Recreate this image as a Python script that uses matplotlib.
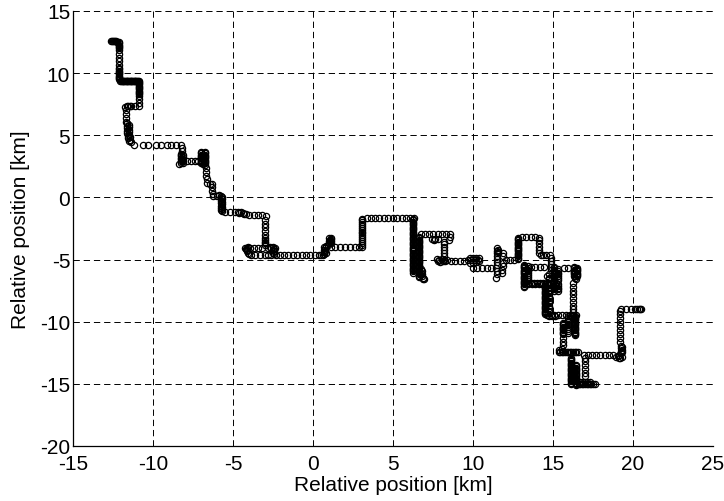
import matplotlib
matplotlib.use("Agg")
import matplotlib.pyplot as plt

# track positions [km], grouped by stretch of the track
track_nw = [
    (-12.65, 12.6), (-12.58, 12.6), (-12.5, 12.6), (-12.43, 12.6), (-12.36, 12.58),
    (-12.29, 12.55), (-12.22, 12.52), (-12.15, 12.48), (-12.1, 12.4), (-12.1, 12.3),
    (-12.1, 12.2), (-12.1, 12.1), (-12.1, 12.0), (-12.1, 11.9), (-12.1, 11.55),
    (-12.1, 11.25), (-12.1, 10.95), (-12.1, 10.65), (-12.1, 10.45), (-12.1, 10.3),
    (-12.1, 10.2), (-12.1, 10.1), (-12.1, 10.0), (-12.1, 9.9), (-12.1, 9.8), (-12.1, 9.7),
    (-12.1, 9.6), (-12.1, 9.5),
    (-12.05, 9.4), (-12.0, 9.4), (-11.95, 9.4), (-11.9, 9.4), (-11.85, 9.4), (-11.8, 9.4),
    (-11.75, 9.4), (-11.7, 9.4), (-11.65, 9.4), (-11.6, 9.4), (-11.55, 9.4), (-11.5, 9.4),
    (-11.45, 9.4), (-11.4, 9.4), (-11.35, 9.4), (-11.3, 9.4), (-11.25, 9.4), (-11.2, 9.4),
    (-11.15, 9.4), (-11.1, 9.4), (-11.05, 9.4), (-11.0, 9.4), (-10.95, 9.4), (-10.9, 9.4),
    (-10.9, 9.3), (-10.9, 9.2), (-10.9, 9.1), (-10.9, 9.0), (-10.9, 8.9), (-10.9, 8.8),
    (-10.9, 8.7), (-10.9, 8.6), (-10.9, 8.5), (-10.9, 8.4), (-10.9, 8.3), (-10.9, 8.2),
    (-10.9, 7.9), (-10.9, 7.6), (-10.9, 7.35),
    (-11.15, 7.35), (-11.35, 7.35), (-11.45, 7.35), (-11.55, 7.35), (-11.65, 7.35),
    (-11.75, 7.3),
    (-11.7, 7.0), (-11.7, 6.7), (-11.7, 6.4), (-11.7, 6.1),
    (-11.6, 5.95), (-11.5, 5.85), (-11.6, 5.75), (-11.5, 5.65), (-11.6, 5.55), (-11.5, 5.45),
    (-11.6, 5.35), (-11.5, 5.25), (-11.6, 5.15), (-11.5, 5.05), (-11.55, 4.95),
    (-11.45, 4.85), (-11.55, 4.75), (-11.45, 4.65), (-11.5, 4.55), (-11.4, 4.45),
    (-11.2, 4.2), (-10.6, 4.2), (-10.3, 4.2), (-9.8, 4.2), (-9.5, 4.2), (-9.15, 4.2),
    (-8.85, 4.2), (-8.55, 4.2), (-8.25, 4.2),
]

track_w = [
    (-8.2, 4.0), (-8.2, 3.75), (-8.25, 3.5), (-8.25, 3.4), (-8.1, 3.4), (-8.25, 3.3),
    (-8.1, 3.25), (-8.25, 3.2), (-8.1, 3.1), (-8.25, 3.1), (-8.2, 3.0), (-8.1, 2.95),
    (-8.25, 2.9), (-8.1, 2.8), (-8.25, 2.8), (-8.35, 2.7),
    (-7.85, 2.95), (-7.6, 2.95), (-7.4, 2.95), (-7.2, 2.95),
    (-7.0, 3.65), (-6.75, 3.65), (-7.0, 3.55), (-6.75, 3.55), (-7.0, 3.45), (-6.75, 3.45),
    (-7.0, 3.35), (-6.75, 3.35), (-7.0, 3.25), (-6.75, 3.25), (-7.0, 3.15), (-6.75, 3.15),
    (-7.0, 3.05), (-6.75, 3.05), (-7.0, 2.95), (-6.75, 2.95), (-7.0, 2.85), (-6.75, 2.85),
    (-7.0, 2.75), (-6.75, 2.75), (-6.9, 2.65), (-6.75, 2.6),
    (-6.7, 2.35), (-6.7, 2.05), (-6.7, 1.75), (-6.65, 1.45), (-6.65, 1.2), (-6.45, 1.1),
    (-6.3, 1.05), (-6.3, 0.8), (-6.3, 0.55), (-6.25, 0.3), (-6.25, 0.1),
    (-6.0, 0.15), (-5.85, 0.2), (-5.75, 0.15), (-5.7, 0.05), (-5.75, -0.05), (-5.7, -0.15),
    (-5.75, -0.25), (-5.7, -0.35), (-5.75, -0.45), (-5.7, -0.55), (-5.75, -0.65),
    (-5.7, -0.75), (-5.75, -0.85), (-5.7, -0.95), (-5.75, -1.05), (-5.7, -1.12),
    (-5.5, -1.2), (-5.2, -1.2), (-4.9, -1.2), (-4.7, -1.2), (-4.6, -1.25), (-4.5, -1.2),
    (-4.4, -1.25), (-4.3, -1.3), (-4.2, -1.35),
    (-4.0, -1.45), (-3.7, -1.45), (-3.45, -1.45), (-3.2, -1.45), (-2.95, -1.5),
    (-3.0, -1.8), (-3.0, -2.1), (-3.0, -2.4), (-3.0, -2.7), (-3.0, -3.0), (-3.0, -3.25),
    (-3.0, -3.4), (-3.0, -3.55), (-3.0, -3.7), (-3.0, -3.85),
    (-2.4, -4.05), (-2.5, -4.0), (-2.6, -4.05), (-2.7, -4.0), (-2.8, -4.05),
    (-3.2, -4.05), (-3.45, -4.05), (-3.7, -4.05), (-3.95, -4.05), (-4.05, -4.0),
    (-4.15, -4.05), (-4.25, -4.05), (-4.2, -4.15), (-4.15, -4.25),
    (-2.45, -4.15), (-2.5, -4.25), (-2.45, -4.35), (-2.5, -4.45), (-2.45, -4.55),
    (-4.1, -4.35), (-4.05, -4.45), (-4.0, -4.55), (-3.9, -4.65),
]

track_s = [
    (-3.6, -4.65), (-3.3, -4.65), (-3.0, -4.65), (-2.8, -4.65), (-2.6, -4.65), (-2.3, -4.65),
    (-2.05, -4.65), (-1.8, -4.65), (-1.55, -4.65), (-1.25, -4.65), (-1.0, -4.65),
    (-0.7, -4.65), (-0.45, -4.65), (-0.2, -4.65), (0.1, -4.65), (0.35, -4.65), (0.5, -4.65),
    (0.6, -4.6), (0.7, -4.55), (0.8, -4.5), (0.7, -4.4), (0.75, -4.3), (0.7, -4.2),
    (0.75, -4.1), (0.7, -4.0), (0.8, -3.9),
    (0.95, -3.8), (1.0, -3.7), (1.05, -3.6), (1.0, -3.5), (1.05, -3.4), (1.0, -3.3),
    (1.1, -3.25), (1.15, -3.35), (1.15, -3.5), (1.1, -3.65),
    (1.1, -4.0), (1.4, -4.0), (1.7, -4.0), (2.0, -4.0), (2.3, -4.0), (2.6, -4.0),
    (2.9, -4.0), (3.05, -3.95),
    (3.05, -3.8), (3.05, -3.65), (3.05, -3.5), (3.05, -3.35), (3.05, -3.2),
    (3.05, -3.05), (3.05, -2.9), (3.05, -2.75), (3.05, -2.6), (3.05, -2.45),
    (3.05, -2.3), (3.05, -2.15), (3.05, -2.0), (3.05, -1.85), (3.05, -1.7),
    (3.35, -1.62), (3.6, -1.62), (3.9, -1.62), (4.15, -1.62), (4.45, -1.62), (4.7, -1.62),
    (5.0, -1.62), (5.25, -1.62), (5.55, -1.62), (5.8, -1.62), (6.05, -1.62), (6.3, -1.62),
]

band_y = [-1.75, -1.85, -1.95, -2.05, -2.15, -2.25, -2.35, -2.45, -2.55, -2.65, -2.75,
          -2.85, -2.95, -3.05, -3.15, -3.25, -3.35, -3.45, -3.55, -3.65, -3.75, -3.85,
          -3.95, -4.05, -4.15, -4.25, -4.35, -4.45, -4.55, -4.65, -4.75, -4.85, -4.95,
          -5.05, -5.15, -5.25, -5.35, -5.45, -5.55, -5.65, -5.75, -5.85, -5.95, -6.05]
band_y_right = [-3.2, -3.3, -3.4, -3.5, -3.6, -3.7, -3.8, -3.9, -4.0, -4.1, -4.2, -4.3,
                -4.4, -4.5, -4.6, -4.7, -4.8, -4.9, -5.0, -5.1, -5.2, -5.3, -5.4, -5.5,
                -5.6, -5.7, -5.8, -5.9, -6.0, -6.1, -6.2, -6.3, -6.4]

track_e = [
    (6.8, -6.3), (6.9, -6.45), (6.95, -6.6), (6.85, -6.55), (6.8, -6.2), (6.75, -6.05),
    (6.8, -5.9), (6.75, -5.75),
    (6.75, -2.95), (7.0, -2.95), (7.25, -2.95), (7.5, -2.95), (7.8, -2.95), (8.05, -2.95),
    (8.3, -2.95), (8.55, -2.95), (8.55, -3.2), (8.5, -3.45),
    (7.45, -3.35), (7.55, -3.4), (7.65, -3.35), (7.8, -3.35), (8.2, -3.55),
    (8.2, -3.75), (8.2, -4.0), (8.2, -4.25), (8.2, -4.5), (8.2, -4.75),
    (7.75, -4.95), (7.8, -5.15), (7.9, -5.0), (7.95, -5.2), (8.05, -4.95), (8.1, -5.15),
    (8.2, -5.0), (8.25, -5.15), (8.35, -5.05),
    (8.6, -5.1), (8.9, -5.1), (9.2, -5.1), (9.45, -5.1),
    (9.7, -5.05), (9.8, -4.85), (9.8, -5.25), (9.9, -5.05), (10.0, -4.85), (10.0, -5.25),
    (10.1, -5.05), (10.2, -4.85), (10.2, -5.2), (10.3, -5.0), (10.4, -4.85), (10.4, -5.1),
    (10.0, -5.7), (10.25, -5.7), (10.55, -5.7), (10.85, -5.7), (11.15, -5.7), (11.45, -5.7),
    (11.5, -4.1), (11.55, -4.2), (11.5, -4.3), (11.55, -4.4), (11.5, -4.5), (11.5, -4.7),
    (11.5, -4.95), (11.5, -5.2), (11.5, -5.45), (11.5, -5.95), (11.5, -6.2), (11.45, -6.45),
    (11.85, -4.5), (11.85, -4.75), (11.85, -5.25), (11.85, -5.5), (11.8, -5.8), (11.8, -6.05),
    (12.05, -5.0), (12.3, -5.0), (12.55, -5.0),
    (12.8, -4.95), (12.8, -4.85), (12.8, -4.75), (12.8, -4.65), (12.8, -4.55), (12.8, -4.45),
    (12.8, -4.35), (12.8, -4.25), (12.8, -4.15), (12.8, -4.05), (12.8, -3.95), (12.8, -3.85),
    (12.8, -3.75), (12.8, -3.65), (12.8, -3.55), (12.8, -3.45), (12.8, -3.35), (12.8, -3.25),
    (13.05, -3.2), (13.3, -3.2), (13.6, -3.2), (13.85, -3.2), (14.1, -3.25),
    (14.1, -3.45), (14.1, -3.7), (14.1, -3.95), (14.1, -4.2), (14.1, -4.45),
    (14.25, -4.6), (14.4, -4.6), (14.55, -4.6), (14.8, -4.6),
    (14.85, -4.85), (14.85, -5.1), (14.85, -5.35), (14.85, -5.6), (14.85, -5.85),
]

track_se = [
    (13.2, -5.4), (13.2, -5.5), (13.2, -5.6), (13.2, -5.7), (13.2, -5.8), (13.2, -5.9),
    (13.2, -6.0), (13.2, -6.1), (13.2, -6.2), (13.2, -6.3), (13.2, -6.4), (13.2, -6.5),
    (13.2, -6.6), (13.2, -6.7), (13.2, -6.8), (13.2, -6.9), (13.2, -7.0), (13.2, -7.1),
    (13.2, -7.2),
    (13.45, -5.5), (13.45, -5.65), (13.45, -5.8), (13.45, -5.95), (13.45, -6.1),
    (13.45, -6.25), (13.45, -6.4), (13.45, -6.55), (13.45, -6.7), (13.45, -6.85),
    (13.45, -7.0),
    (13.65, -5.6), (13.9, -5.6), (14.2, -5.6), (14.45, -5.6),
    (13.6, -6.9), (13.7, -6.95), (13.8, -6.9), (13.9, -6.95), (14.0, -6.9), (14.1, -6.95),
    (14.2, -6.9), (14.3, -6.95), (14.4, -6.9), (14.5, -6.95), (14.6, -6.9), (14.7, -6.95),
    (14.8, -6.9), (14.9, -6.95), (15.0, -6.9), (15.1, -6.95), (15.2, -6.9), (15.3, -6.95),
    (14.75, -6.6), (14.75, -6.45), (14.65, -6.3), (14.75, -6.15),
    (15.05, -5.6), (15.05, -5.7), (15.05, -5.8), (15.05, -5.9), (15.05, -6.0), (15.05, -6.1),
    (15.05, -6.2), (15.05, -6.3), (15.05, -6.4), (15.05, -6.5), (15.05, -6.6), (15.05, -6.7),
    (15.05, -7.1), (15.05, -7.2), (15.05, -7.3), (15.05, -7.4), (15.05, -7.5),
    (15.3, -5.75), (15.3, -5.9), (15.3, -6.05), (15.3, -6.2), (15.3, -6.35), (15.3, -6.5),
    (15.3, -6.65), (15.3, -7.1), (15.3, -7.25), (15.3, -7.4), (15.3, -7.55),
    (15.7, -5.7), (15.95, -5.65),
    (16.3, -5.6), (16.5, -5.65), (16.3, -5.7), (16.5, -5.75), (16.3, -5.8), (16.5, -5.85),
    (16.3, -5.9), (16.5, -5.95), (16.3, -6.0), (16.5, -6.05), (16.3, -6.1), (16.5, -6.15),
    (16.3, -6.2), (16.5, -6.25), (16.3, -6.3), (16.5, -6.35), (16.35, -6.45), (16.45, -6.55),
    (16.25, -6.9), (16.25, -7.2), (16.25, -7.5), (16.25, -7.8), (16.25, -8.1), (16.25, -8.4),
    (16.25, -8.7), (16.25, -9.0), (16.25, -9.25),
    (14.5, -7.1), (14.5, -7.2), (14.5, -7.3), (14.5, -7.4), (14.5, -7.5), (14.5, -7.6),
    (14.5, -7.7), (14.5, -7.8), (14.5, -7.9), (14.5, -8.0), (14.5, -8.1), (14.5, -8.2),
    (14.5, -8.3), (14.5, -8.4), (14.5, -8.5), (14.5, -8.6), (14.5, -8.7), (14.5, -8.8),
    (14.5, -8.9), (14.5, -9.0), (14.5, -9.1), (14.5, -9.2), (14.5, -9.3), (14.5, -9.4),
    (14.75, -7.3), (14.75, -7.5), (14.75, -7.7), (14.75, -7.9), (14.75, -8.1), (14.75, -8.3),
    (14.75, -8.5), (14.75, -8.7), (14.75, -8.9), (14.75, -9.1),
    (14.65, -9.45), (14.75, -9.5), (14.85, -9.45), (14.95, -9.5), (15.05, -9.45),
    (15.15, -9.5), (15.3, -9.45), (15.55, -9.45), (15.8, -9.45), (15.95, -9.5),
    (16.05, -9.45), (16.15, -9.5), (16.25, -9.45), (16.35, -9.5), (16.45, -9.45),
    (16.35, -9.6), (16.4, -9.7), (16.35, -9.8), (16.4, -9.9), (16.35, -10.0), (16.4, -10.1),
    (16.35, -10.2), (16.4, -10.3), (16.35, -10.4), (16.4, -10.5), (16.35, -10.6),
    (16.4, -10.7), (16.35, -10.8), (16.4, -10.9), (16.35, -11.0), (16.4, -11.1),
    (15.95, -9.7), (15.95, -9.85), (15.95, -10.0), (15.95, -10.15), (15.95, -10.3),
    (15.95, -10.45), (15.95, -10.6), (15.95, -10.75), (15.95, -10.9),
    (15.65, -10.1), (15.65, -10.2), (15.65, -10.3), (15.65, -10.4), (15.65, -10.5),
    (15.65, -10.6), (15.65, -10.7), (15.65, -10.8), (15.65, -10.9), (15.65, -11.0),
    (15.65, -11.3), (15.65, -11.6), (15.65, -11.9),
    (15.35, -12.45), (15.45, -12.4), (15.55, -12.45), (15.65, -12.4), (15.75, -12.45),
    (15.85, -12.4), (15.95, -12.45), (16.05, -12.4), (16.15, -12.45), (16.25, -12.4),
    (16.35, -12.45), (16.45, -12.4), (16.55, -12.45), (15.4, -12.25), (15.55, -12.2),
    (16.95, -12.7), (17.2, -12.7), (17.45, -12.7), (17.7, -12.7), (17.95, -12.7),
    (18.25, -12.7), (18.5, -12.7), (18.75, -12.7),
    (18.95, -12.8), (19.05, -12.75), (19.15, -12.65), (19.25, -12.55), (19.3, -12.45),
    (19.25, -12.35), (19.3, -12.25), (19.25, -12.15), (19.3, -12.05), (19.25, -11.95),
    (19.3, -12.85), (19.2, -12.95), (19.1, -12.9),
    (19.2, -11.6), (19.2, -11.3), (19.2, -10.95), (19.2, -10.65), (19.2, -10.35),
    (19.2, -10.0), (19.2, -9.7), (19.2, -9.4), (19.2, -9.1),
    (19.25, -8.95), (19.55, -8.95), (19.85, -8.95), (20.1, -8.95), (20.25, -8.95),
    (20.35, -8.95), (20.45, -8.95), (20.5, -8.95),
    (16.15, -12.9), (16.15, -13.0), (16.15, -13.1), (16.15, -13.2), (16.15, -13.3),
    (16.15, -13.4), (16.15, -13.5), (16.15, -13.6), (16.15, -13.7), (16.15, -13.8),
    (16.15, -13.9), (16.15, -14.0), (16.15, -14.1), (16.15, -14.2), (16.15, -14.3),
    (16.15, -14.4), (16.15, -14.5), (16.15, -14.6), (16.15, -14.7), (16.15, -14.8),
    (16.15, -14.9), (16.15, -15.0),
    (16.45, -13.5), (16.45, -13.6), (16.45, -13.7), (16.45, -13.8), (16.45, -13.9),
    (16.45, -14.0), (16.45, -14.1), (16.45, -14.2), (16.45, -14.3), (16.45, -14.4),
    (16.45, -14.5), (16.45, -14.6), (16.45, -14.7), (16.45, -14.8), (16.45, -14.9),
    (16.45, -15.0), (16.45, -15.1),
    (17.0, -12.9), (17.0, -13.2), (17.0, -13.5), (17.0, -13.8), (17.0, -14.1), (17.0, -14.4),
    (16.6, -15.05), (16.7, -15.05), (16.8, -15.05), (16.9, -15.05), (17.0, -15.05),
    (17.1, -15.05), (17.2, -15.05), (17.3, -15.05), (17.4, -15.05), (17.5, -15.05),
    (17.6, -15.05), (16.7, -14.85), (16.85, -14.85), (17.0, -14.85), (17.15, -14.85),
    (17.3, -14.85),
]

x_ticks = [-15, -10, -5, 0, 5, 10, 15, 20, 25]
y_ticks = [-20, -15, -10, -5, 0, 5, 10, 15]
axis_label = "Relative position [km]"

plt.rcParams['font.family'] = ['Liberation Sans', 'DejaVu Sans']
plt.rcParams['axes.unicode_minus'] = False

fig = plt.figure(figsize=(7.24, 5.02), dpi=100)
ax = fig.add_axes([73 / 724, 1 - 447 / 502, 640 / 724, 435 / 502])

xs, ys = [], []
for track in [track_nw, track_w, track_s, track_e, track_se]:
    xs += [p[0] for p in track]
    ys += [p[1] for p in track]
# the dark double band east of 5 km
xs += [6.25] * len(band_y) + [6.6] * len(band_y_right)
ys += band_y + band_y_right

ax.plot(xs, ys, linestyle='none', marker='o', markersize=4.5,
        markerfacecolor='none', markeredgecolor='black', markeredgewidth=0.9)

ax.set_xlim(-15, 25)
ax.set_ylim(-20, 15)
ax.set_xticks(x_ticks)
ax.set_yticks(y_ticks)
ax.grid(True, color='black', linestyle=(0, (6.5, 4)), linewidth=0.7)
ax.set_axisbelow(True)
for side in ['top', 'right']:
    ax.spines[side].set_visible(False)
for side in ['left', 'bottom']:
    ax.spines[side].set_linewidth(0.9)
ax.tick_params(direction='in', length=0, labelsize=15)
ax.tick_params(axis='x', pad=6)
ax.tick_params(axis='y', pad=2)
ax.set_xlabel(axis_label, fontsize=15, labelpad=1)
ax.set_ylabel(axis_label, fontsize=15, labelpad=7)

fig.savefig("out.png", dpi=100)
